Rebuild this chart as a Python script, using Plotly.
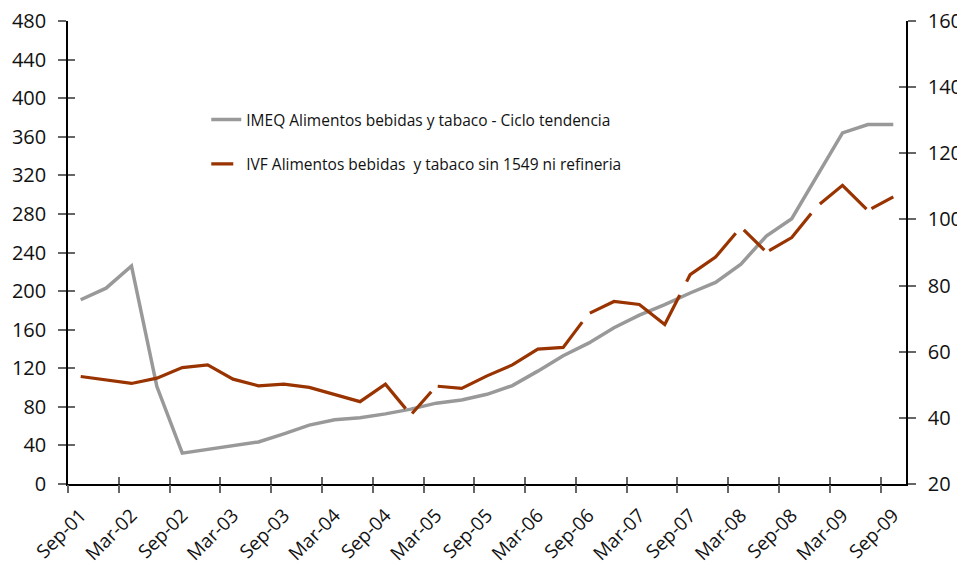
import plotly.graph_objects as go

labels = ["Sep-01", "Mar-02", "Sep-02", "Mar-03", "Sep-03", "Mar-04", "Sep-04", "Mar-05", "Sep-05",
          "Mar-06", "Sep-06", "Mar-07", "Sep-07", "Mar-08", "Sep-08", "Mar-09", "Sep-09"]

# quarterly points, Sep-01 .. Sep-09 (33 quarters)
imeq = [191, 203, 226, 101, 32, 36, 39.5, 43.6, 52, 61, 66.5, 68.6, 72.7, 77.6, 83.8, 87, 93,
        102, 117, 133, 146, 162, 175, 186, 198, 209, 228, 257, 275, 320, 364, 372.7, 372.7]
ivf = [52.5, 51.4, 50.4, 52, 55.2, 56, 51.7, 49.7, 50.2, 49.2, 47, 44.9, 50.2, 40.9, 49.6, 48.9, 52.7,
       56, 60.8, 61.3, 71.5, 75.2, 74.3, 68.2, 83.3, 88.6, 97.7, 90.1, 94.5, 104, 110.3, 102.7, 106.8]

name_imeq = "IMEQ Alimentos bebidas y tabaco - Ciclo tendencia"
name_ivf = "IVF Alimentos bebidas  y tabaco sin 1549 ni refineria"

idx = list(range(len(imeq)))
label_pos = idx[::2]
bound_pos = [p - 0.5 for p in label_pos]

GREY = "#999999"
RED = "#993300"
FONT = "Open Sans"

fig = go.Figure()
fig.add_trace(go.Scatter(x=idx, y=imeq, mode="lines", line=dict(color=GREY, width=3.5),
                         showlegend=False, yaxis="y"))
fig.add_trace(go.Scatter(x=idx, y=ivf, mode="lines",
                         line=dict(color=RED, width=3.2,
                                   dash="352px,10px,29px,9px,167px,12px,118px,15px,70px,12px,29px,6px,57px,13px,63px,6px,200px"),
                         showlegend=False, yaxis="y2"))
# legend entries
fig.add_trace(go.Scatter(x=[None], y=[None], mode="lines", name=name_imeq,
                         line=dict(color=GREY, width=3.5), legend="legend"))
fig.add_trace(go.Scatter(x=[None], y=[None], mode="lines", name=name_ivf,
                         line=dict(color=RED, width=3.2, dash="22px,9px,3px,30px"), legend="legend2"))
# helpers for crossing tick marks
fig.add_trace(go.Scatter(x=[None], y=[None], xaxis="x2", yaxis="y", showlegend=False))
fig.add_trace(go.Scatter(x=[None], y=[None], xaxis="x3", yaxis="y", showlegend=False))
fig.add_trace(go.Scatter(x=[None], y=[None], xaxis="x", yaxis="y3", showlegend=False))
fig.add_trace(go.Scatter(x=[None], y=[None], xaxis="x", yaxis="y4", showlegend=False))

xr = [-0.5, len(imeq) - 0.5]
tickc = "#666666"
fig.update_layout(
    width=957, height=561,
    margin=dict(l=60, r=59, t=13, b=85),
    paper_bgcolor="white", plot_bgcolor="white",
    font=dict(family=FONT, color="#111111"),
    xaxis=dict(range=xr, tickmode="array", tickvals=label_pos, ticktext=labels,
               tickangle=-45, ticks="", showgrid=False, zeroline=False, automargin=False,
               showline=True, linecolor="black", linewidth=1.5, ticklabelstandoff=11,
               ticklabeloverflow="allow",
               tickfont=dict(size=19, family=FONT)),
    xaxis2=dict(range=xr, overlaying="x", anchor="y", side="bottom", tickmode="array",
                tickvals=bound_pos, ticks="outside", ticklen=8, tickcolor=tickc, tickwidth=1.5,
                automargin=False,
                showticklabels=False, showgrid=False, zeroline=False, showline=False),
    xaxis3=dict(range=xr, overlaying="x", anchor="y", side="bottom", tickmode="array",
                tickvals=bound_pos, ticks="inside", ticklen=7, tickcolor=tickc, tickwidth=1.5,
                automargin=False,
                showticklabels=False, showgrid=False, zeroline=False, showline=False),
    yaxis=dict(range=[0, 480], dtick=40, tick0=0, ticks="outside", ticklen=8, tickcolor=tickc,
               tickwidth=1.5, showgrid=False, zeroline=False, showline=True, linecolor="black",
               linewidth=1.5, tickfont=dict(size=20, family=FONT), ticklabelstandoff=8,
               ticklabeloverflow="allow", automargin=False),
    yaxis2=dict(range=[20, 160], dtick=20, tick0=20, overlaying="y", side="right", anchor="x",
                ticks="outside", ticklen=8, tickcolor=tickc, tickwidth=1.5, showgrid=False,
                zeroline=False, showline=True, linecolor="black", linewidth=1.5,
                tickfont=dict(size=20, family=FONT), ticklabelstandoff=8,
                ticklabeloverflow="allow", automargin=False),
    yaxis3=dict(range=[0, 480], dtick=40, tick0=0, overlaying="y", side="left", anchor="x",
                ticks="inside", ticklen=7, tickcolor=tickc, tickwidth=1.5, showticklabels=False,
                showgrid=False, zeroline=False, showline=False, automargin=False),
    yaxis4=dict(range=[20, 160], dtick=20, tick0=20, overlaying="y", side="right", anchor="x",
                ticks="inside", ticklen=7, tickcolor=tickc, tickwidth=1.5, showticklabels=False,
                showgrid=False, zeroline=False, showline=False, automargin=False),
    legend=dict(x=0.165, y=0.823, xanchor="left", yanchor="top", bgcolor="rgba(0,0,0,0)",
                font=dict(size=15.5, family=FONT, color="#111111")),
    legend2=dict(x=0.165, y=0.727, xanchor="left", yanchor="top", bgcolor="rgba(0,0,0,0)",
                 font=dict(size=15.5, family=FONT, color="#111111")),
)

fig.write_html("out.html")
